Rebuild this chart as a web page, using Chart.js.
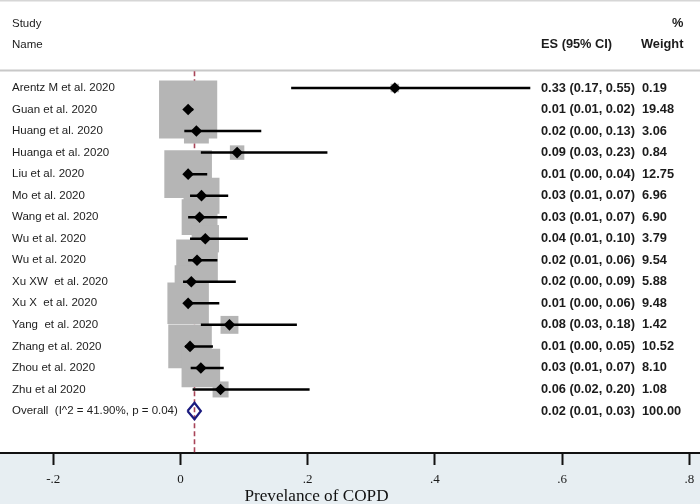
<!DOCTYPE html>
<html><head><meta charset="utf-8">
<script src="https://cdn.jsdelivr.net/npm/chart.js@4/dist/chart.umd.min.js"></script>
<style>html,body{margin:0;padding:0;background:#fff}#wrap{width:700px;height:504px;position:relative}</style>
</head><body><div id="wrap"><canvas id="c" width="700" height="504"></canvas></div>
<script>
const studies = ["Arentz M et al. 2020","Guan et al. 2020","Huang et al. 2020","Huanga et al. 2020","Liu et al. 2020","Mo et al. 2020","Wang et al. 2020","Wu et al. 2020","Wu et al. 2020","Xu XW  et al. 2020","Xu X  et al. 2020","Yang  et al. 2020","Zhang et al. 2020","Zhou et al. 2020","Zhu et al 2020"];
const es = [0.337,0.012,0.025,0.089,0.012,0.033,0.030,0.039,0.026,0.017,0.012,0.077,0.015,0.032,0.063];
const lo = [0.174,0.010,0.006,0.032,0.006,0.015,0.012,0.015,0.012,0.004,0.007,0.032,0.007,0.016,0.019];
const hi = [0.550,0.020,0.127,0.231,0.042,0.075,0.073,0.106,0.058,0.087,0.061,0.183,0.051,0.068,0.203];
const esLabels = ["0.33 (0.17, 0.55)","0.01 (0.01, 0.02)","0.02 (0.00, 0.13)","0.09 (0.03, 0.23)","0.01 (0.00, 0.04)","0.03 (0.01, 0.07)","0.03 (0.01, 0.07)","0.04 (0.01, 0.10)","0.02 (0.01, 0.06)","0.02 (0.00, 0.09)","0.01 (0.00, 0.06)","0.08 (0.03, 0.18)","0.01 (0.00, 0.05)","0.03 (0.01, 0.07)","0.06 (0.02, 0.20)"];
const weights = [0.19,19.48,3.06,0.84,12.75,6.96,6.90,3.79,9.54,5.88,9.48,1.42,10.52,8.10,1.08];
const overallLabel = "Overall  (I^2 = 41.90%, p = 0.04)";
const overallES = 0.022, overallLo = 0.011, overallHi = 0.032;
const overallESLabel = "0.02 (0.01, 0.03)";
const overallWeight = "100.00";
const tickValues = [-0.2,0,0.2,0.4,0.6,0.8];
const tickLabels = ["-.2","0",".2",".4",".6",".8"];
const xTitle = "Prevelance of COPD";

const n = studies.length;
const overallRow = n;
const rows = studies.map((_, i) => i);

const ciData = [];
rows.forEach(i => { ciData.push({x: lo[i], y: i}, {x: hi[i], y: i}, {x: null, y: null}); });
const boxData = rows.map(i => ({x: es[i], y: i}));
const boxRadius = weights.map(w => (3 + 12.5 * Math.sqrt(w)) / Math.SQRT2);
const diamondH = 0.38;
const overallDiamond = [
  {x: overallLo, y: overallRow}, {x: overallES, y: overallRow - diamondH},
  {x: overallHi, y: overallRow}, {x: overallES, y: overallRow + diamondH},
  {x: overallLo, y: overallRow}
];
const yMin = -4.087, yMax = 16.951;
const refLine = [{x: overallES, y: -0.78}, {x: overallES, y: yMax}];

const textPlugin = {
  id: 'forestText',
  beforeDraw(chart) {
    const {ctx, chartArea} = chart;
    ctx.save();
    ctx.fillStyle = '#ffffff';
    ctx.fillRect(0, 0, chart.width, chart.height);
    ctx.fillStyle = '#e7eef2';
    ctx.fillRect(0, chartArea.bottom, chart.width, chart.height - chartArea.bottom);
    const ys = chart.scales.y;
    ctx.strokeStyle = '#d6d6d6';
    ctx.lineWidth = 2;
    ctx.beginPath(); ctx.moveTo(0, 0.5); ctx.lineTo(chart.width, 0.5); ctx.stroke();
    const hy = ys.getPixelForValue(-0.81);
    ctx.strokeStyle = '#c8c8c8';
    ctx.beginPath(); ctx.moveTo(0, hy); ctx.lineTo(chart.width, hy); ctx.stroke();
    ctx.restore();
  },
  afterDatasetsDraw(chart) {
    const {ctx} = chart;
    const ys = chart.scales.y;
    ctx.save();
    ctx.textBaseline = 'middle';
    ctx.fillStyle = '#1c1c1c';
    ctx.font = '11.5px "Liberation Sans", Arial, sans-serif';
    ctx.fillText('Study', 12, ys.getPixelForValue(-3));
    ctx.fillText('Name', 12, ys.getPixelForValue(-2));
    studies.forEach((s, i) => ctx.fillText(s, 12, ys.getPixelForValue(i)));
    ctx.fillText(overallLabel, 12, ys.getPixelForValue(overallRow));
    ctx.font = 'bold 12.8px "Liberation Sans", Arial, sans-serif';
    ctx.fillText('ES (95% CI)', 541, ys.getPixelForValue(-2));
    ctx.fillText('%', 672, ys.getPixelForValue(-3));
    ctx.fillText('Weight', 641, ys.getPixelForValue(-2));
    esLabels.forEach((s, i) => ctx.fillText(s, 541, ys.getPixelForValue(i)));
    weights.forEach((w, i) => ctx.fillText(w.toFixed(2), 642, ys.getPixelForValue(i)));
    ctx.fillText(overallESLabel, 541, ys.getPixelForValue(overallRow));
    ctx.fillText(overallWeight, 642, ys.getPixelForValue(overallRow));
    ctx.restore();
  },
  afterDraw(chart) {
    const {ctx} = chart;
    ctx.save();
    ctx.fillStyle = '#111';
    ctx.textAlign = 'center';
    ctx.textBaseline = 'middle';
    ctx.font = '17.2px "Liberation Serif", "Times New Roman", serif';
    ctx.fillText(xTitle, 316.5, 496);
    ctx.restore();
  }
};

new Chart(document.getElementById('c'), {
  type: 'scatter',
  data: {
    datasets: [
      {data: refLine, showLine: true, borderColor: '#a84458', borderWidth: 1.6, borderDash: [5, 3], pointRadius: 0, order: 4},
      {data: boxData, pointStyle: 'rect', pointRadius: boxRadius, backgroundColor: '#b5b5b5', borderWidth: 0, order: 3},
      {data: ciData, showLine: true, spanGaps: false, borderColor: '#000', borderWidth: 2.5, pointRadius: 0, order: 2},
      {data: boxData, pointStyle: 'rectRot', pointRadius: 5.8, backgroundColor: '#000', borderWidth: 0, order: 1},
      {data: overallDiamond, showLine: true, borderColor: '#1a1a7e', borderWidth: 2.2, pointRadius: 0, fill: false, order: 0}
    ]
  },
  options: {
    responsive: false,
    animation: false,
    events: [],
    layout: {padding: 0, autoPadding: false},
    plugins: {legend: {display: false}, tooltip: {enabled: false}},
    scales: {
      x: {
        type: 'linear', position: 'bottom',
        min: -180.5 / 636, max: 519.5 / 636,
        afterBuildTicks: s => { s.ticks = tickValues.map(v => ({value: v})); },
        afterFit: s => { s.height = 51; s.paddingLeft = 0; s.paddingRight = 0; },
        ticks: {
          callback: (v) => { const k = tickValues.findIndex(t => Math.abs(t - v) < 1e-9); return k >= 0 ? tickLabels[k] : ''; },
          font: {family: '"Liberation Serif", "Times New Roman", serif', size: 13},
          color: '#1a1a1a', padding: 7, maxRotation: 0, autoSkip: false
        },
        grid: {display: true, drawOnChartArea: false, drawTicks: true, tickLength: 12, tickWidth: 2, tickColor: '#111'},
        border: {display: true, color: '#111', width: 2},
        title: {display: false, text: xTitle}
      },
      y: {type: 'linear', reverse: true, min: yMin, max: yMax, display: false}
    }
  },
  plugins: [textPlugin]
});
</script></body></html>
